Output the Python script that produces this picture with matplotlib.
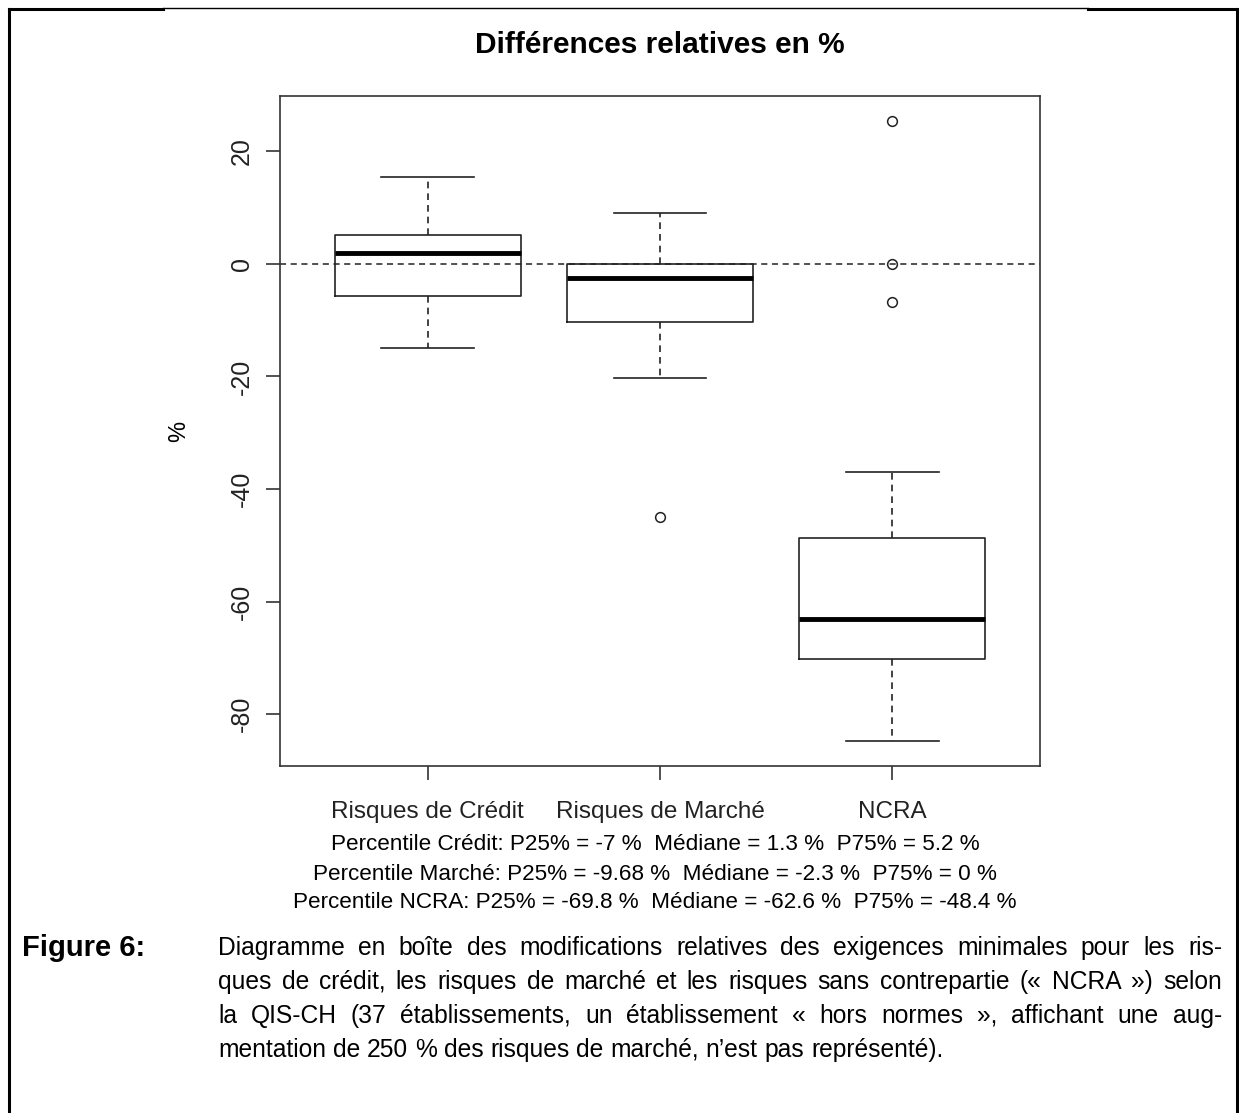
import matplotlib
matplotlib.use("Agg")
import matplotlib.pyplot as plt
from matplotlib.lines import Line2D

plt.rcParams['font.family'] = ['Liberation Sans', 'DejaVu Sans']

# Données
catégories = ['Risques de Crédit', 'Risques de Marché', 'NCRA']
moustache_bas = [-14.9, -20.2, -84.7]
q1 = [-5.7, -10.3, -70.2]
médianes = [1.9, -2.5, -63.1]
q3 = [5.2, 0.0, -48.7]
moustache_haut = [15.5, 9.1, -36.9]
aberrants = [[], [-44.9], [25.3, 0.0, -6.8]]

lignes_stats = [
    "Percentile Crédit: P25% = -7 %  Médiane = 1.3 %  P75% = 5.2 %",
    "Percentile Marché: P25% = -9.68 %  Médiane = -2.3 %  P75% = 0 %",
    "Percentile NCRA: P25% = -69.8 %  Médiane = -62.6 %  P75% = -48.4 %",
]

légende = [
    "Diagramme en boîte des modifications relatives des exigences minimales pour les ris-",
    "ques de crédit, les risques de marché et les risques sans contrepartie (« NCRA ») selon",
    "la QIS-CH (37 établissements, un établissement « hors normes », affichant une aug-",
    "mentation de 250 % des risques de marché, n’est pas représenté).",
]

W, H = 1239, 1113
fig = plt.figure(figsize=(W / 100, H / 100), dpi=100)
ax = fig.add_axes([280 / W, 1 - 766 / H, 760 / W, 670 / H])

stats = []
for i in range(len(catégories)):
    stats.append({
        'whislo': moustache_bas[i], 'q1': q1[i], 'med': médianes[i],
        'q3': q3[i], 'whishi': moustache_haut[i], 'fliers': aberrants[i],
        'label': catégories[i],
    })

ax.bxp(stats, positions=[1, 2, 3], widths=0.8, capwidths=0.4,
       boxprops=dict(color='#222222', lw=1.2),
       whiskerprops=dict(color='#222222', lw=1.2, linestyle=(0, (4, 3))),
       capprops=dict(color='#222222', lw=1.2),
       medianprops=dict(color='black', lw=3.5, solid_capstyle='butt'),
       flierprops=dict(marker='o', markerfacecolor='none', markeredgecolor='#222222',
                       markersize=7, markeredgewidth=1.1))

ax.axhline(0, color='#222222', lw=1.1, linestyle=(0, (4, 3)), zorder=0)

ax.set_xlim(0.365, 3.635)
ax.set_ylim(-89.2, 29.8)
ax.set_yticks([-80, -60, -40, -20, 0, 20])
ax.set_yticklabels(['-80', '-60', '-40', '-20', '0', '20'], rotation=90, va='center')
ax.tick_params(direction='out', length=10, width=1.1, colors='#222222', labelsize=18)
ax.tick_params(axis='y', pad=9)
ax.tick_params(axis='x', pad=15, labelsize=17.5)
for s in ax.spines.values():
    s.set_linewidth(1.2)
    s.set_color('#333333')

ax.set_title("Différences relatives en %", fontsize=21.5, fontweight='bold', pad=31)
ax.set_ylabel("%", fontsize=17)
ax.yaxis.set_label_coords(-0.118, 0.5)

# Lignes de percentiles sous le graphique
for k, ligne in enumerate(lignes_stats):
    fig.text(655 / W, 1 - (845 + 29 * k) / H, ligne, ha='center', va='center', fontsize=16.2)

# Cadre de la figure
épais = dict(color='black', lw=2.2, transform=fig.transFigure)
fig.add_artist(Line2D([9 / W, 9 / W], [0, 1 - 9 / H], **épais))
fig.add_artist(Line2D([1237 / W, 1237 / W], [0, 1 - 9 / H], **épais))
fig.add_artist(Line2D([9 / W, 163 / W], [1 - 9 / H, 1 - 9 / H], **épais))
fig.add_artist(Line2D([1088 / W, 1237 / W], [1 - 9 / H, 1 - 9 / H], **épais))
fig.add_artist(Line2D([163 / W, 1088 / W], [1 - 8 / H, 1 - 8 / H], color='black', lw=1.0,
                      transform=fig.transFigure))

# Légende de la figure, texte justifié
fig.text(22 / W, 1 - 948 / H, "Figure 6:", ha='left', va='center', fontsize=21, fontweight='bold')
fig.canvas.draw()
rendu = fig.canvas.get_renderer()
x0, x1 = 218, 1222
for k, ligne in enumerate(légende):
    y = 1 - (948 + 34 * k) / H
    mots = ligne.split(' ')
    objets = [fig.text(0, y, m, ha='left', va='center', fontsize=17.7) for m in mots]
    largeurs = [o.get_window_extent(rendu).width for o in objets]
    if k < len(légende) - 1:
        écart = (x1 - x0 - sum(largeurs)) / (len(mots) - 1)
    else:
        écart = objets[0].get_fontsize() * 0.278 * 100 / 72
    x = x0
    for o, l in zip(objets, largeurs):
        o.set_x(x / W)
        x += l + écart

fig.savefig("out.png", dpi=100)
